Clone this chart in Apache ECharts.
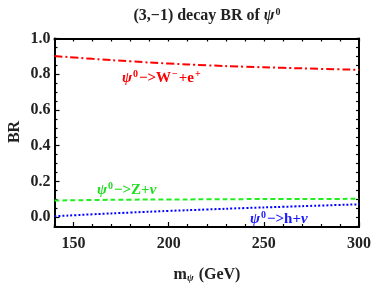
<!DOCTYPE html>
<html>
<head>
<meta charset="utf-8">
<script src="https://cdn.jsdelivr.net/npm/echarts@6/dist/echarts.min.js"></script>
<style>html,body{margin:0;padding:0;background:#fff;}#c{width:374px;height:288px;}</style>
</head>
<body>
<div id="c"></div>
<script>
const masses = [140, 160, 180, 200, 220, 240, 260, 280, 300];
const brW = [0.902, 0.886, 0.872, 0.860, 0.850, 0.842, 0.836, 0.830, 0.825];
const brZ = [0.093, 0.096, 0.098, 0.099, 0.100, 0.101, 0.102, 0.102, 0.103];
const brH = [0.005, 0.016, 0.026, 0.035, 0.043, 0.051, 0.058, 0.065, 0.072];
const xMajor = [150, 200, 250, 300];
const xMinor = [140, 160, 170, 180, 190, 210, 220, 230, 240, 260, 270, 280, 290];
const yMajor = [0, 0.2, 0.4, 0.6, 0.8, 1.0];
const yMinor = [-0.05, 0.05, 0.1, 0.15, 0.25, 0.3, 0.35, 0.45, 0.5, 0.55, 0.65, 0.7, 0.75, 0.85, 0.9, 0.95];
const xAll = xMajor.concat(xMinor);
const yAll = yMajor.concat(yMinor);

const FONT = '"Liberation Serif", "DejaVu Serif", serif';
const XMIN = 140, XMAX = 300, YMIN = -0.055, YMAX = 1.0;

function pts(ys) { return masses.map((m, i) => [m, ys[i]]); }

const chart = echarts.init(document.getElementById('c'), null, {renderer: 'canvas'});

function axisLine(show) { return {show: show, onZero: false, lineStyle: {color: '#000', width: 2}}; }
function xAx(pos, ticks, len, labels, line) {
  return {
    type: 'value', position: pos, min: XMIN, max: XMAX,
    axisLine: axisLine(line),
    axisTick: {show: true, inside: true, length: len, lineStyle: {color: '#000', width: 1.2}, customValues: ticks},
    axisLabel: labels ? {show: true, customValues: xMajor, color: '#222', fontFamily: FONT, fontWeight: 'bold', fontSize: 16, margin: 9} : {show: false},
    splitLine: {show: false}
  };
}
function yAx(pos, ticks, len, labels, line) {
  return {
    type: 'value', position: pos, min: YMIN, max: YMAX,
    axisLine: axisLine(line),
    axisTick: {show: true, inside: true, length: len, lineStyle: {color: '#000', width: 1.2}, customValues: ticks},
    axisLabel: labels ? {show: true, customValues: yMajor, color: '#222', fontFamily: FONT, fontWeight: 'bold', fontSize: 16, margin: 4,
      formatter: v => v.toFixed(1)} : {show: false},
    splitLine: {show: false}
  };
}
function lbl(txt, color, x, y) {
  return {type: 'text', x: x, y: y, style: {text: txt, verticalAlign: 'middle', fontFamily: FONT,
    rich: {i: {fontFamily: FONT, fontStyle: 'italic', fontWeight: 'bold', fontSize: 15, fill: color},
           t: {fontFamily: FONT, fontWeight: 'bold', fontSize: 15, fill: color},
           s: {fontFamily: FONT, fontWeight: 'bold', fontSize: 10, fill: color, padding: [0, 1, 7, 1]}}}};
}

const option = {
  animation: false,
  backgroundColor: '#fff',
  grid: {left: 54.5, right: 13, top: 38.5, bottom: 61},
  xAxis: [
    xAx('bottom', xMajor, 5, true, true),
    xAx('bottom', xMinor, 3, false, false),
    xAx('top', xAll, 3, false, true)
  ],
  yAxis: [
    yAx('left', yMajor, 5, true, true),
    yAx('left', yMinor, 3, false, false),
    yAx('right', yAll, 3, false, true)
  ],
  series: [
    {type: 'line', data: pts(brW), showSymbol: false, smooth: true, xAxisIndex: 0, yAxisIndex: 0,
     lineStyle: {color: '#ff0000', width: 2, type: [8, 3, 2, 3]}},
    {type: 'line', data: pts(brZ), showSymbol: false, smooth: true, xAxisIndex: 0, yAxisIndex: 0,
     lineStyle: {color: '#22ee22', width: 2, type: [5, 3]}},
    {type: 'line', data: pts(brH), showSymbol: false, smooth: true, xAxisIndex: 0, yAxisIndex: 0,
     lineStyle: {color: '#0000ff', width: 2, type: [2, 2]}}
  ],
  graphic: [
    {type: 'text', x: 207, y: 16, style: {text: '{t|(3,−1) decay BR of }{i|ψ}{s|0}', align: 'center', verticalAlign: 'middle', fontFamily: FONT,
      rich: {t: {fontFamily: FONT, fontWeight: 'bold', fontSize: 16, fill: '#222'},
             i: {fontFamily: FONT, fontStyle: 'italic', fontWeight: 'bold', fontSize: 16, fill: '#222'},
             s: {fontFamily: FONT, fontWeight: 'bold', fontSize: 10, fill: '#222', padding: [0, 0, 7, 1]}}}},
    {type: 'text', x: 15, y: 132, rotation: Math.PI / 2,
     style: {text: 'BR', align: 'center', verticalAlign: 'middle', fontFamily: FONT, fontWeight: 'bold', fontSize: 16, fill: '#222'}},
    {type: 'text', x: 207, y: 275, style: {text: '{m|m}{sub|ψ}{m| (GeV)}', align: 'center', verticalAlign: 'middle', fontFamily: FONT,
      rich: {m: {fontFamily: FONT, fontWeight: 'bold', fontSize: 16, fill: '#222'},
             sub: {fontFamily: FONT, fontStyle: 'italic', fontWeight: 'bold', fontSize: 10, fill: '#222', padding: [7, 1, 0, 0]}}}},
    lbl('{i|ψ}{s|0}{t|−>W}{s|−}{t|+e}{s|+}', '#ff0000', 122, 78),
    lbl('{i|ψ}{s|0}{t|−>Z+}{i|ν}', '#22dd22', 97, 190),
    lbl('{i|ψ}{s|0}{t|−>h+}{i|ν}', '#1a1aff', 250, 219)
  ]
};
chart.setOption(option);
</script>
</body>
</html>
